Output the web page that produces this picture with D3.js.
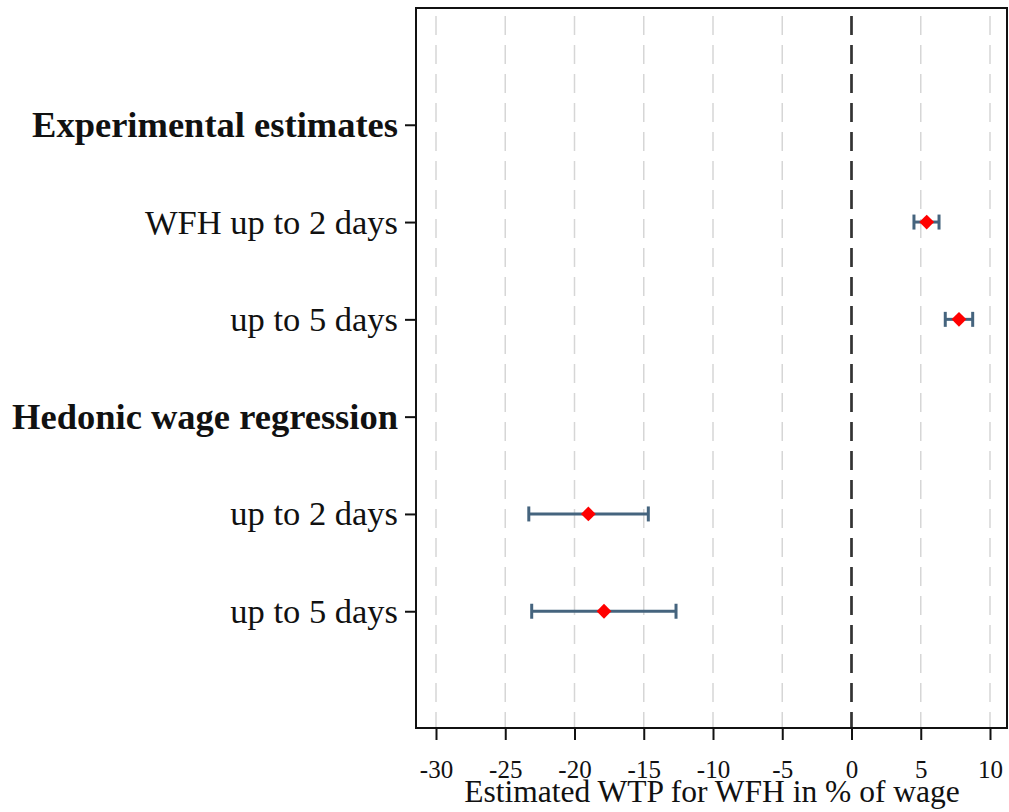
<!DOCTYPE html>
<html>
<head>
<meta charset="utf-8">
<script src="https://cdn.jsdelivr.net/npm/d3@7"></script>
<style>
  body { margin: 0; background: #fff; }
  svg { display: block; font-family: "Liberation Serif", "DejaVu Serif", serif; }
</style>
</head>
<body>
<div id="chart"></div>
<script>
(function() {
    "use strict";

    // rows, top to bottom; headers carry no estimate
    var rowLabels = ["Experimental estimates", "WFH up to 2 days", "up to 5 days",
                     "Hedonic wage regression", "up to 2 days", "up to 5 days"];
    var rowBold = [true, false, false, true, false, false];
    var estimates = [null, 5.43, 7.76, null, -19.0, -17.87];
    var ciLow = [null, 4.51, 6.77, null, -23.3, -23.09];
    var ciHigh = [null, 6.32, 8.75, null, -14.67, -12.67];
    var xTicks = [-30, -25, -20, -15, -10, -5, 0, 5, 10];

    var width = 1009, height = 812;
    var left = 416, right = 1007, top = 8, bottom = 728;

    var svg = d3.select("#chart").append("svg")
        .attr("width", width)
        .attr("height", height);

    var x = d3.scaleLinear().domain([-30, 10]).range([436, 990]);
    var y = d3.scaleLinear().domain([-1.2, rowLabels.length - 1 + 1.2]).range([top, bottom]);

    // grid
    svg.append("g").selectAll("line")
        .data(xTicks.filter(function(d) { return d !== 0; }))
        .join("line")
        .attr("x1", function(d) { return x(d); })
        .attr("x2", function(d) { return x(d); })
        .attr("y1", top + 8)
        .attr("y2", bottom)
        .attr("stroke", "#d6d6d6")
        .attr("stroke-width", 1.5)
        .attr("stroke-dasharray", "19,10");

    // zero reference line
    svg.append("line")
        .attr("x1", x(0)).attr("x2", x(0))
        .attr("y1", top + 8).attr("y2", bottom)
        .attr("stroke", "#333")
        .attr("stroke-width", 2.7)
        .attr("stroke-dasharray", "19,10");

    // frame
    svg.append("rect")
        .attr("x", left).attr("y", top)
        .attr("width", right - left).attr("height", bottom - top)
        .attr("fill", "none")
        .attr("stroke", "#111")
        .attr("stroke-width", 2);

    // x axis
    var xAxis = svg.append("g")
        .attr("transform", "translate(0," + bottom + ")")
        .call(d3.axisBottom(x).tickValues(xTicks).tickSize(12).tickPadding(20)
            .tickFormat(function(d) { return d; }));
    xAxis.select(".domain").remove();
    xAxis.selectAll(".tick line").attr("stroke", "#111").attr("stroke-width", 2);
    xAxis.selectAll(".tick text")
        .attr("fill", "#111")
        .style("font-family", "Liberation Serif, serif")
        .style("font-size", "25px");

    svg.append("text")
        .attr("x", 712)
        .attr("y", 802)
        .attr("text-anchor", "middle")
        .attr("fill", "#111")
        .style("font-size", "31.5px")
        .text("Estimated WTP for WFH in % of wage");

    // y axis
    var idx = d3.range(rowLabels.length);
    var yAxis = svg.append("g")
        .attr("transform", "translate(" + left + ",0)")
        .call(d3.axisLeft(y).tickValues(idx).tickSize(11).tickPadding(7)
            .tickFormat(function(i) { return rowLabels[i]; }));
    yAxis.select(".domain").remove();
    yAxis.selectAll(".tick line").attr("stroke", "#111").attr("stroke-width", 2);
    yAxis.selectAll(".tick text")
        .attr("fill", "#111")
        .style("font-family", "Liberation Serif, serif")
        .style("font-size", function(i) { return rowBold[i] ? "36.5px" : "34.5px"; })
        .style("font-weight", function(i) { return rowBold[i] ? "bold" : "normal"; });

    // estimates
    var pts = idx.filter(function(i) { return estimates[i] !== null; });
    var bars = svg.append("g").attr("stroke", "#45647e").attr("stroke-width", 3);
    bars.selectAll("line.ci")
        .data(pts).join("line")
        .attr("class", "ci")
        .attr("x1", function(i) { return x(ciLow[i]); })
        .attr("x2", function(i) { return x(ciHigh[i]); })
        .attr("y1", function(i) { return y(i); })
        .attr("y2", function(i) { return y(i); });
    bars.selectAll("line.capl")
        .data(pts).join("line")
        .attr("class", "capl")
        .attr("x1", function(i) { return x(ciLow[i]); })
        .attr("x2", function(i) { return x(ciLow[i]); })
        .attr("y1", function(i) { return y(i) - 7.5; })
        .attr("y2", function(i) { return y(i) + 7.5; });
    bars.selectAll("line.caph")
        .data(pts).join("line")
        .attr("class", "caph")
        .attr("x1", function(i) { return x(ciHigh[i]); })
        .attr("x2", function(i) { return x(ciHigh[i]); })
        .attr("y1", function(i) { return y(i) - 7.5; })
        .attr("y2", function(i) { return y(i) + 7.5; });

    svg.append("g").selectAll("path")
        .data(pts).join("path")
        .attr("d", d3.symbol(d3.symbolDiamond2, 140)())
        .attr("transform", function(i) { return "translate(" + x(estimates[i]) + "," + y(i) + ")"; })
        .attr("fill", "#ff0000");
})();
</script>
</body>
</html>
